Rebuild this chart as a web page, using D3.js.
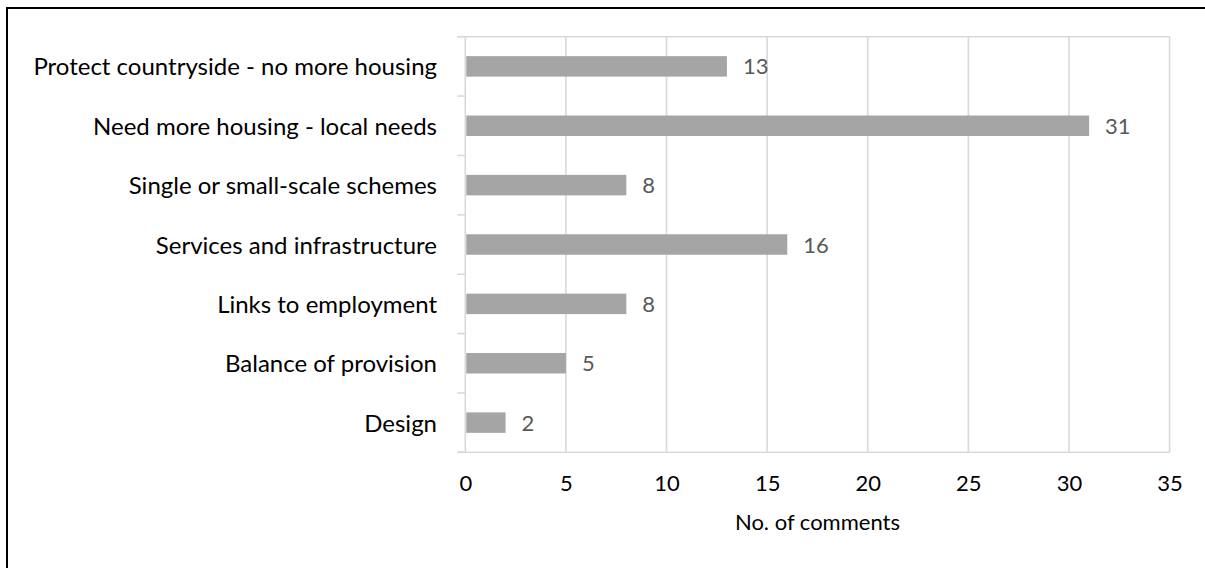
<!DOCTYPE html>
<html>
<head>
<meta charset="utf-8">
<script src="https://cdn.jsdelivr.net/npm/d3@7"></script>
<style>
  html, body { margin: 0; padding: 0; background: #fff; }
  svg { display: block; }
  text { font-family: Lato, "Open Sans", "Noto Sans", sans-serif; }
</style>
</head>
<body>
<svg id="chart" width="1205" height="568"></svg>
<script>
// Responses grouped by theme
const categories = [
  "Protect countryside - no more housing",
  "Need more housing - local needs",
  "Single or small-scale schemes",
  "Services and infrastructure",
  "Links to employment",
  "Balance of provision",
  "Design"
];
const counts = [13, 31, 8, 16, 8, 5, 2];
const xTicks = [0, 5, 10, 15, 20, 25, 30, 35];
const xTitle = "No. of comments";

const svg = d3.select("#chart");
const W = 1205, H = 568;
const plot = { left: 465.3, right: 1169.6, top: 36.7, bottom: 452.3 };
const gridColor = "#d9d9d9";

// outer frame
svg.append("rect")
  .attr("x", 7).attr("y", 8)
  .attr("width", W + 20).attr("height", H + 20)
  .attr("fill", "#fff")
  .attr("stroke", "#000").attr("stroke-width", 2);

const x = d3.scaleLinear().domain([0, 35]).range([plot.left, plot.right]);
const y = d3.scaleBand().domain(categories)
  .range([plot.top, plot.bottom])
  .paddingInner(0.655).paddingOuter(0.3275);

// vertical gridlines
svg.append("g").selectAll("line")
  .data(xTicks.filter(t => t > 0))
  .join("line")
  .attr("x1", d => x(d)).attr("x2", d => x(d))
  .attr("y1", plot.top).attr("y2", plot.bottom)
  .attr("stroke", gridColor).attr("stroke-width", 1.6);

// top and bottom frame lines of the plot area
[plot.top, plot.bottom].forEach(yy => {
  svg.append("line")
    .attr("x1", plot.left - 8).attr("x2", plot.right)
    .attr("y1", yy).attr("y2", yy)
    .attr("stroke", gridColor).attr("stroke-width", 1.6);
});

// category axis with ticks on band boundaries
svg.append("line")
  .attr("x1", plot.left).attr("x2", plot.left)
  .attr("y1", plot.top).attr("y2", plot.bottom)
  .attr("stroke", gridColor).attr("stroke-width", 1.6);
const step = y.step();
svg.append("g").selectAll("line")
  .data(d3.range(categories.length + 1))
  .join("line")
  .attr("x1", plot.left - 8).attr("x2", plot.left)
  .attr("y1", i => plot.top + i * step).attr("y2", i => plot.top + i * step)
  .attr("stroke", gridColor).attr("stroke-width", 1.6);

// bars
svg.append("g").selectAll("rect")
  .data(categories)
  .join("rect")
  .attr("x", x(0) + 1)
  .attr("y", d => y(d))
  .attr("width", (d, i) => x(counts[i]) - x(0) - 1)
  .attr("height", y.bandwidth())
  .attr("fill", "#a5a5a5");

// value labels
svg.append("g").selectAll("text")
  .data(categories)
  .join("text")
  .attr("x", (d, i) => x(counts[i]) + 16)
  .attr("y", d => y(d) + y.bandwidth() / 2 + 8)
  .attr("font-size", 22)
  .attr("fill", "#595959")
  .text((d, i) => counts[i]);

// category labels
svg.append("g").selectAll("text")
  .data(categories)
  .join("text")
  .attr("x", 437)
  .attr("y", d => y(d) + y.bandwidth() / 2 + 9)
  .attr("text-anchor", "end")
  .attr("font-size", 24)
  .attr("fill", "#000")
  .text(d => d);

// value axis tick labels
const xAxis = d3.axisBottom(x).tickValues(xTicks).tickSize(0).tickPadding(0);
const gx = svg.append("g").attr("transform", `translate(0,${plot.bottom})`).call(xAxis);
gx.select(".domain").remove();
gx.selectAll("text")
  .attr("font-size", 22)
  .attr("fill", "#000")
  .attr("dy", null)
  .attr("y", 39);

// axis title
svg.append("text")
  .attr("x", (plot.left + plot.right) / 2)
  .attr("y", 530)
  .attr("text-anchor", "middle")
  .attr("font-size", 22)
  .attr("fill", "#000")
  .text(xTitle);
</script>
</body>
</html>
